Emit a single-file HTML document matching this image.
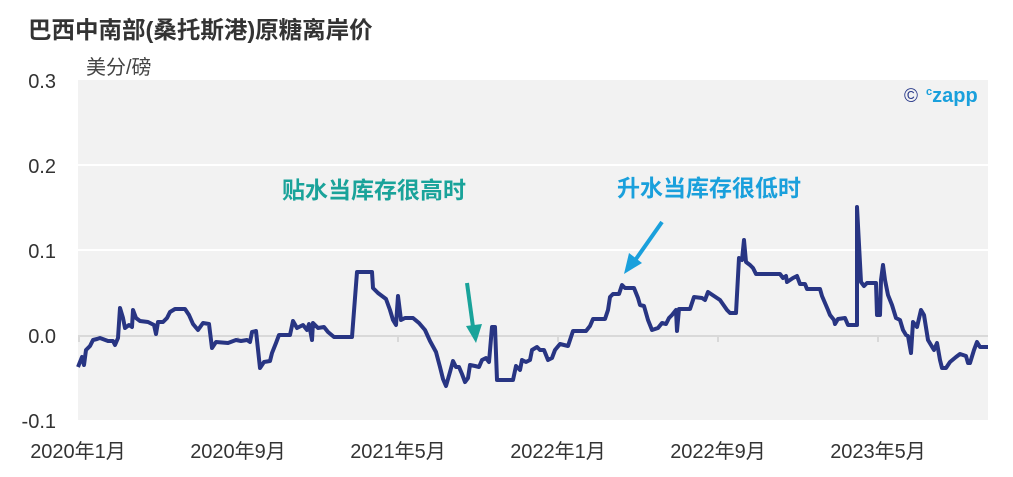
<!DOCTYPE html>
<html><head><meta charset="utf-8"><style>
body{margin:0;background:#fff;}
svg{display:block;font-family:"Liberation Sans","Noto Sans CJK SC",sans-serif;}
</style></head><body>
<svg width="1013" height="477" viewBox="0 0 1013 477">
<text x="28" y="38" font-size="23.5" font-weight="bold" fill="#333">巴西中南部(桑托斯港)原糖离岸价</text>
<text x="86" y="74" font-size="20" fill="#444">美分/磅</text>
<rect x="78" y="80" width="910" height="340" fill="#f2f2f2"/>
<line x1="78" y1="165" x2="988" y2="165" stroke="#fff" stroke-width="2"/>
<line x1="78" y1="250" x2="988" y2="250" stroke="#fff" stroke-width="2"/>
<line x1="78" y1="336" x2="988" y2="336" stroke="#d9d9d9" stroke-width="2"/>
<g stroke="#d9d9d9" stroke-width="2">
<line x1="79" y1="336" x2="79" y2="342"/><line x1="238" y1="336" x2="238" y2="342"/><line x1="398" y1="336" x2="398" y2="342"/><line x1="558" y1="336" x2="558" y2="342"/><line x1="718" y1="336" x2="718" y2="342"/><line x1="878" y1="336" x2="878" y2="342"/></g>
<g font-size="20" fill="#333" text-anchor="end">
<text x="56" y="88">0.3</text><text x="56" y="173">0.2</text><text x="56" y="258">0.1</text><text x="56" y="343">0.0</text><text x="56" y="428">-0.1</text></g>
<g font-size="20" fill="#333" text-anchor="middle">
<text x="78" y="458">2020年1月</text><text x="238" y="458">2020年9月</text><text x="398" y="458">2021年5月</text><text x="558" y="458">2022年1月</text><text x="718" y="458">2022年9月</text><text x="878" y="458">2023年5月</text></g>
<text x="904" y="102" font-size="19" fill="#2a3a8a">©</text>
<text x="926" y="102" font-size="20" font-weight="bold" fill="#1aa0dc"><tspan font-size="11" dy="-7">c</tspan><tspan dy="7">zapp</tspan></text>
<polyline fill="none" stroke="#283583" stroke-width="4" stroke-linejoin="round" points="78,367 82,357 84,365 86,350 90,346 93,340 97,339 100,338 108,341 113,341 115,345 118,338 120,308 123,318 125,328 129,325 132,327 133,310 136,318 140,321 148,322 154,325 156,334 158,322 163,322 167,318 170,312 175,309 185,309 189,315 193,324 198,330 203,323 209,324 212,348 216,342 228,343 236,340 241,341 247,340 250,342 252,332 256,331 260,368 264,362 270,361 272,353 276,343 279,335 290,335 293,321 297,328 303,325 307,330 309,324 312,340 313,323 318,328 324,327 328,332 334,337 340,337 352,337 357,272 372,272 373,288 378,293 386,299 390,310 393,320 396,325 398,296 401,320 405,318 413,318 419,323 425,330 430,341 436,352 440,367 443,379 446,386 450,372 453,361 456,367 459,367 462,374 465,382 468,378 470,365 475,366 479,367 482,360 486,358 489,362 492,327 495,327 497,380 502,380 513,380 516,366 520,370 522,360 526,362 530,360 532,350 537,347 540,350 544,350 548,360 552,358 555,350 560,344 568,346 570,340 573,331 586,331 590,326 593,319 605,319 608,310 610,297 613,294 619,294 622,285 625,288 634,288 638,298 640,305 644,306 648,320 652,330 658,328 662,323 666,324 669,318 672,315 676,310 677,331 679,309 690,309 694,297 702,298 705,300 708,292 714,296 720,300 727,310 730,313 736,313 739,258 742,260 744,240 746,262 750,265 753,268 756,274 780,274 783,278 786,276 787,282 790,280 793,278 797,276 800,284 805,284 807,289 820,289 822,296 825,303 828,310 830,315 834,320 835,324 838,319 845,318 848,325 857,325 857,207 861,282 864,286 867,283 876,283 877,315 880,315 881,280 883,265 885,280 888,295 892,305 896,318 900,320 903,330 906,335 908,336 911,353 913,322 917,327 921,310 924,315 928,340 931,345 934,350 937,343 940,360 942,368 946,368 950,362 956,357 960,354 966,356 968,363 970,363 974,350 977,342 980,347 988,347"/>
<text x="282" y="198" font-size="23" font-weight="bold" fill="#1aa39a">贴水当库存很高时</text>
<text x="617" y="196" font-size="23" font-weight="bold" fill="#1aa0dc">升水当库存很低时</text>
<line x1="467" y1="283" x2="473" y2="327" stroke="#1aa39a" stroke-width="4"/>
<polygon points="466,326 482,324 476,343" fill="#1aa39a"/>
<line x1="662" y1="222" x2="636" y2="259" stroke="#1aa0dc" stroke-width="4"/>
<polygon points="629,253 642,263 624,274" fill="#1aa0dc"/>
</svg>
</body></html>
